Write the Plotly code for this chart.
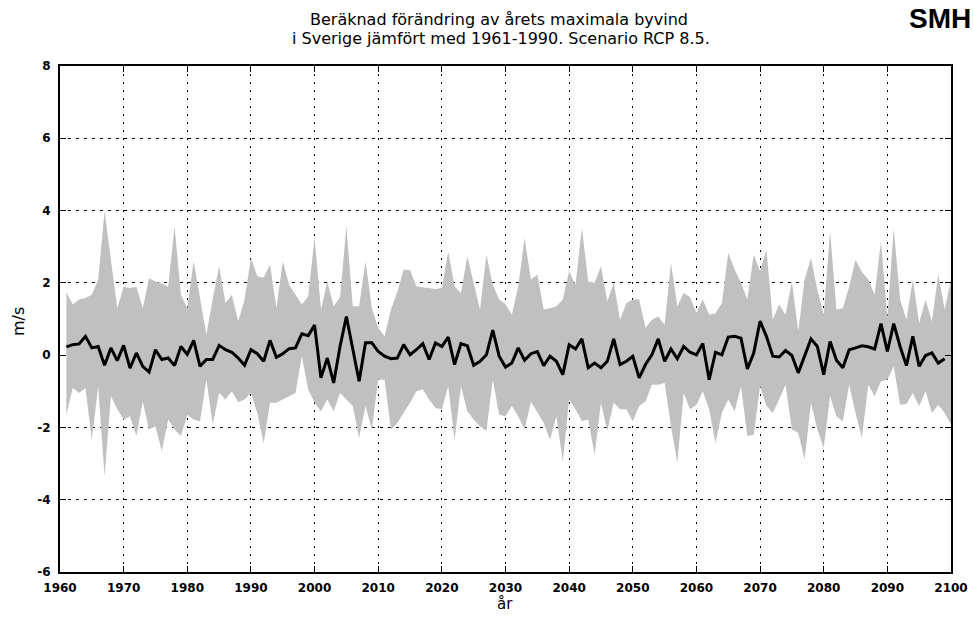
import plotly.graph_objects as go

years_band = list(range(1961, 2101))
years_mean = list(range(1961, 2100))

upper = [1.74, 1.40, 1.54, 1.58, 1.67, 2.09, 3.98, 2.64, 1.30, 1.89,
         1.86, 1.89, 1.30, 2.13, 2.04, 1.98, 1.89, 3.56, 1.67, 1.30,
         2.60, 1.58, 0.57, 1.55, 2.46, 1.44, 1.67, 0.94, 1.54, 2.69,
         2.18, 2.15, 2.50, 1.30, 2.60, 1.95, 1.67, 1.40, 1.63, 3.25,
         1.26, 2.04, 1.35, 1.60, 3.56, 1.35, 1.35, 2.60, 1.30, 0.75,
         0.52, 1.26, 1.75, 2.37, 2.35, 1.90, 1.88, 1.86, 1.83, 1.86,
         2.87, 1.90, 1.72, 2.73, 1.99, 1.26, 2.78, 1.95, 1.54, 1.40,
         1.12, 1.90, 3.24, 2.09, 2.23, 1.26, 1.30, 1.35, 1.54, 2.32,
         1.95, 3.52, 2.04, 2.00, 2.46, 1.49, 2.00, 0.98, 1.44, 1.54,
         1.54, 0.75, 0.98, 1.07, 0.84, 2.55, 1.35, 1.72, 1.60, 1.17,
         1.54, 1.12, 1.16, 1.44, 2.83, 2.37, 2.00, 1.54, 2.78, 2.32,
         2.92, 0.98, 1.40, 1.12, 2.04, 0.66, 2.09, 2.69, 1.81, 1.12,
         3.43, 1.26, 1.30, 1.90, 2.64, 2.30, 2.10, 1.67, 3.15, 1.03,
         3.52, 1.54, 0.98, 2.09, 0.89, 1.54, 0.93, 2.23, 1.26, 2.09]

lower = [-1.65, -0.91, -1.05, -0.91, -2.34, -0.86, -3.35, -1.14, -1.50, -1.78,
         -1.69, -2.24, -1.28, -2.06, -1.97, -2.66, -1.78, -2.06, -2.24, -1.65,
         -1.78, -1.83, -0.68, -1.92, -1.05, -1.23, -1.00, -1.30, -1.23, -1.05,
         -1.60, -2.43, -1.32, -1.32, -1.23, -1.14, -1.05, -0.03, -0.96, -1.32,
         -1.55, -1.23, -1.55, -1.05, -1.23, -1.41, -2.29, -1.41, -2.06, -0.68,
         -0.68, -2.06, -1.88, -1.60, -1.32, -1.00, -0.95, -1.23, -1.46, -1.50,
         -0.86, -2.34, -0.86, -1.55, -1.78, -1.97, -2.10, -0.68, -1.65, -1.69,
         -1.41, -1.69, -2.06, -1.28, -1.60, -1.88, -2.34, -1.69, -2.94, -1.23,
         -1.50, -1.83, -1.78, -2.75, -1.32, -2.10, -1.32, -1.50, -1.50, -1.83,
         -1.41, -1.28, -0.82, -0.82, -0.77, -1.97, -2.98, -1.05, -1.50, -1.37,
         -1.00, -1.50, -2.43, -1.60, -1.23, -1.55, -0.86, -2.24, -2.20, -0.86,
         -1.41, -1.60, -1.23, -0.82, -2.06, -2.15, -2.89, -1.32, -2.06, -2.57,
         -1.14, -1.69, -1.83, -0.82, -1.60, -2.29, -0.82, -1.14, -0.72, -0.68,
         -0.31, -1.37, -1.35, -1.05, -1.41, -1.00, -1.60, -1.37, -1.60, -1.92]

mean = [0.23, 0.29, 0.31, 0.52, 0.20, 0.24, -0.28, 0.20, -0.15, 0.27,
        -0.36, 0.06, -0.31, -0.47, 0.15, -0.12, -0.08, -0.29, 0.24, 0.02,
        0.41, -0.31, -0.12, -0.12, 0.27, 0.15, 0.08, -0.08, -0.28, 0.15,
        0.04, -0.17, 0.41, -0.06, 0.04, 0.18, 0.20, 0.59, 0.54, 0.83,
        -0.63, -0.08, -0.77, 0.24, 1.07, 0.15, -0.72, 0.34, 0.34, 0.10,
        -0.03, -0.10, -0.08, 0.29, 0.01, 0.15, 0.32, -0.12, 0.34, 0.24,
        0.50, -0.26, 0.32, 0.26, -0.28, -0.17, 0.01, 0.69, -0.03, -0.33,
        -0.22, 0.20, -0.14, 0.04, 0.10, -0.29, -0.03, -0.17, -0.54, 0.29,
        0.17, 0.45, -0.35, -0.22, -0.35, -0.17, 0.45, -0.26, -0.17, -0.03,
        -0.63, -0.26, 0.01, 0.45, -0.17, 0.17, -0.10, 0.24, 0.08, 0.01,
        0.32, -0.68, 0.08, 0.01, 0.50, 0.52, 0.47, -0.38, 0.06, 0.94,
        0.52, -0.03, -0.05, 0.13, -0.01, -0.49, 0.01, 0.45, 0.24, -0.54,
        0.38, -0.14, -0.35, 0.15, 0.20, 0.26, 0.23, 0.17, 0.87, 0.10,
        0.87, 0.24, -0.29, 0.52, -0.31, -0.01, 0.06, -0.22, -0.10]

x_ticks = list(range(1960, 2101, 10))
y_ticks = list(range(-6, 9, 2))

title_line1 = "Beräknad förändring av årets maximala byvind"
title_line2 = "i Sverige jämfört med 1961-1990. Scenario RCP 8.5."
x_label = "år"
y_label = "m/s"
logo = "SMH"

W, H = 973, 617
L, R, T, B = 60, 22, 66, 45
pw, ph = W - L - R, H - T - B


def px(xp):
    return (xp - L) / pw


def py(yp):
    return (H - B - yp) / ph


fig = go.Figure()
fig.add_trace(go.Scatter(x=years_band, y=lower, mode="lines",
                         line=dict(width=0, color="#c0c0c0"),
                         showlegend=False, hoverinfo="skip"))
fig.add_trace(go.Scatter(x=years_band, y=upper, mode="lines",
                         line=dict(width=0, color="#c0c0c0"),
                         fill="tonexty", fillcolor="#c0c0c0",
                         showlegend=False, hoverinfo="skip"))
fig.add_trace(go.Scatter(x=years_mean, y=mean, mode="lines",
                         line=dict(width=3, color="black"),
                         showlegend=False))

tickfont = dict(family="DejaVu Sans", size=12, color="black", weight="bold")
txtfont = dict(family="DejaVu Sans", size=16, color="black")

fig.update_layout(
    width=W, height=H,
    margin=dict(l=L, r=R, t=T, b=B, autoexpand=False),
    paper_bgcolor="white", plot_bgcolor="white",
    xaxis=dict(range=[1960, 2100], tickvals=x_ticks, ticktext=[str(v) for v in x_ticks],
               showgrid=True, gridcolor="black", griddash="2px,6px", gridwidth=1,
               zeroline=False, showline=True, linecolor="black", linewidth=2,
               mirror="ticks", ticks="inside", ticklen=6, tickcolor="black",
               tickfont=tickfont, layer="above traces", automargin=False,
               ticklabelstandoff=4),
    yaxis=dict(range=[-6, 8], tickvals=y_ticks, ticktext=[str(v) for v in y_ticks],
               showgrid=True, gridcolor="black", griddash="3px,5px", gridwidth=1,
               zeroline=False, showline=True, linecolor="black", linewidth=2,
               mirror="ticks", ticks="inside", ticklen=6, tickcolor="black",
               tickfont=tickfont, layer="above traces", automargin=False,
               ticklabelstandoff=5),
    annotations=[
        dict(text=title_line1, xref="paper", yref="paper", x=px(499), y=py(19),
             showarrow=False, xanchor="center", yanchor="middle", font=txtfont,
             borderpad=0),
        dict(text=title_line2, xref="paper", yref="paper", x=px(501), y=py(38),
             showarrow=False, xanchor="center", yanchor="middle", font=txtfont,
             borderpad=0),
        dict(text=logo, xref="paper", yref="paper", x=px(972), y=py(18),
             showarrow=False, xanchor="right", yanchor="middle", borderpad=0,
             font=dict(family="Liberation Sans", size=28, color="black", weight="bold")),
        dict(text=x_label, xref="paper", yref="paper", x=px(505), y=py(604),
             showarrow=False, xanchor="center", yanchor="middle", borderpad=0,
             font=dict(family="DejaVu Sans", size=15, color="black")),
        dict(text=y_label, xref="paper", yref="paper", x=px(18), y=py(322),
             showarrow=False, xanchor="center", yanchor="middle", textangle=-90,
             borderpad=0, font=dict(family="DejaVu Sans", size=16, color="black")),
    ],
)

fig.write_html("out.html", config={"displayModeBar": False, "staticPlot": True})

with open("out.html", "r", encoding="utf-8") as f:
    html = f.read()
html = html.replace("<head>", "<head><style>html,body{margin:0;padding:0;overflow:hidden;}</style>", 1)
with open("out.html", "w", encoding="utf-8") as f:
    f.write(html)
